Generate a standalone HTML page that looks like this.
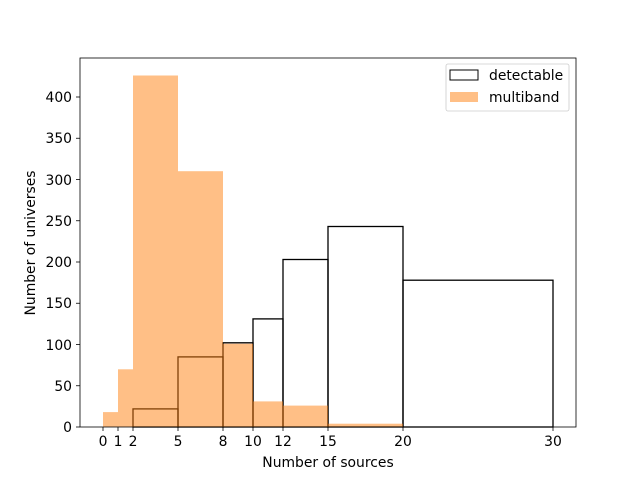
<!DOCTYPE html>
<html><head><style>body{margin:0;background:#fff}svg{display:block;font-family:"DejaVu Sans","Liberation Sans",sans-serif}</style></head><body>
<svg width="640" height="480" viewBox="0 0 640 480">
<g fill="none" stroke="#000" stroke-width="1.3">
<rect x="133" y="408.9" width="45" height="18.1"/>
<rect x="178" y="356.9" width="45" height="70.1"/>
<rect x="223" y="342.8" width="30" height="84.2"/>
<rect x="253" y="318.9" width="30" height="108.1"/>
<rect x="283" y="259.5" width="45" height="167.5"/>
<rect x="328" y="226.5" width="75" height="200.5"/>
<rect x="403" y="280.2" width="150" height="146.8"/>
</g>
<g fill="#ff7f0e" fill-opacity="0.5">
<rect x="103" y="412.1" width="15" height="14.9"/>
<rect x="118" y="369.3" width="15" height="57.7"/>
<rect x="133" y="75.5" width="45" height="351.5"/>
<rect x="178" y="171.2" width="45" height="255.8"/>
<rect x="223" y="343.7" width="30" height="83.3"/>
<rect x="253" y="401.4" width="30" height="25.6"/>
<rect x="283" y="405.6" width="45" height="21.4"/>
<rect x="328" y="423.7" width="75" height="3.3"/>
</g>
<rect x="80" y="58" width="496" height="369" fill="none" stroke="#000" stroke-width="0.8"/>
<g stroke="#000" stroke-width="0.8">
<line x1="103" y1="427" x2="103" y2="431"/><line x1="118" y1="427" x2="118" y2="431"/><line x1="133" y1="427" x2="133" y2="431"/><line x1="178" y1="427" x2="178" y2="431"/><line x1="223" y1="427" x2="223" y2="431"/><line x1="253" y1="427" x2="253" y2="431"/><line x1="283" y1="427" x2="283" y2="431"/><line x1="328" y1="427" x2="328" y2="431"/><line x1="403" y1="427" x2="403" y2="431"/><line x1="553" y1="427" x2="553" y2="431"/>
<line x1="76" y1="427" x2="80" y2="427"/><line x1="76" y1="385.75" x2="80" y2="385.75"/><line x1="76" y1="344.5" x2="80" y2="344.5"/><line x1="76" y1="303.25" x2="80" y2="303.25"/><line x1="76" y1="262" x2="80" y2="262"/><line x1="76" y1="220.75" x2="80" y2="220.75"/><line x1="76" y1="179.5" x2="80" y2="179.5"/><line x1="76" y1="138.25" x2="80" y2="138.25"/><line x1="76" y1="97" x2="80" y2="97"/>
</g>
<g font-size="13.9" fill="#000" text-anchor="middle">
<text x="103" y="446">0</text><text x="118" y="446">1</text><text x="133" y="446">2</text><text x="178" y="446">5</text><text x="223" y="446">8</text><text x="253" y="446">10</text><text x="283" y="446">12</text><text x="328" y="446">15</text><text x="403" y="446">20</text><text x="553" y="446">30</text>
<text x="328" y="467">Number of sources</text>
</g>
<g font-size="13.9" fill="#000" text-anchor="end">
<text x="72" y="432">0</text><text x="72" y="391">50</text><text x="72" y="350">100</text><text x="72" y="308">150</text><text x="72" y="267">200</text><text x="72" y="226">250</text><text x="72" y="185">300</text><text x="72" y="143">350</text><text x="72" y="102">400</text>
</g>
<text transform="translate(35,243) rotate(-90)" font-size="13.9" text-anchor="middle">Number of universes</text>
<rect x="446" y="64" width="123" height="47" rx="2" fill="#fff" fill-opacity="0.8" stroke="#ccc" stroke-width="0.8"/>
<rect x="450" y="70" width="28" height="10" fill="none" stroke="#000" stroke-width="1"/>
<rect x="450" y="92" width="28" height="10" fill="#ff7f0e" fill-opacity="0.5"/>
<text x="489" y="80" font-size="13.9">detectable</text>
<text x="489" y="102" font-size="13.9">multiband</text>
</svg>
</body></html>
